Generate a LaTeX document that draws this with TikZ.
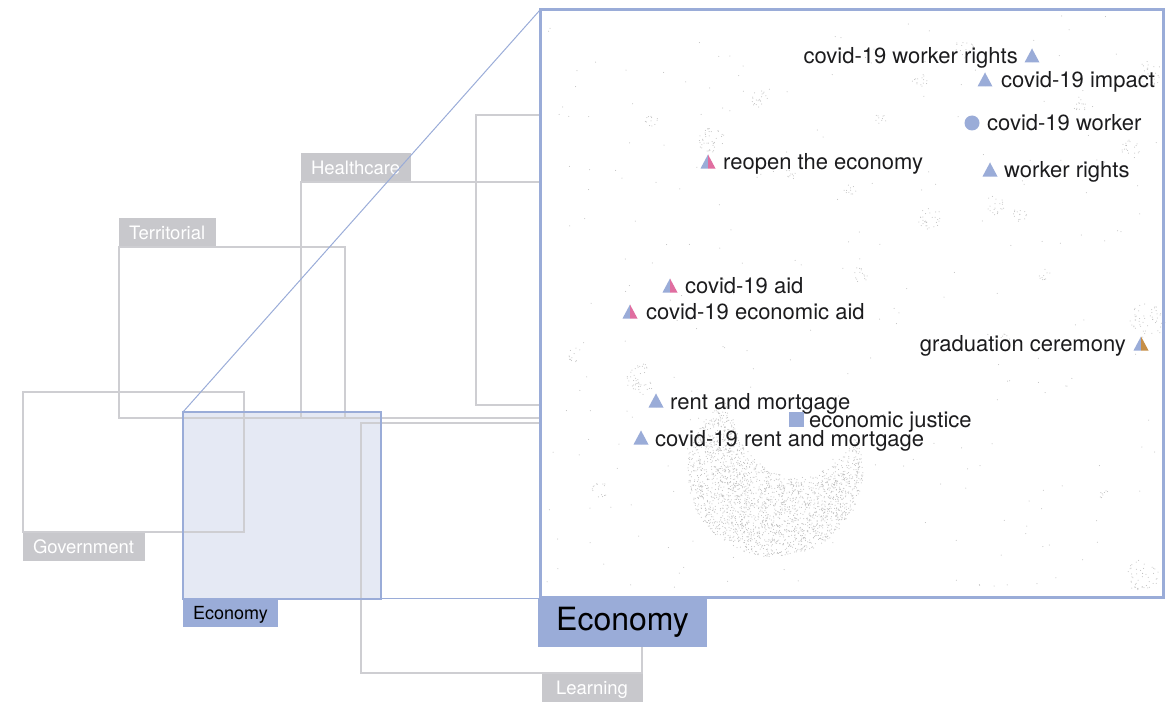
\documentclass[tikz,border=0pt]{standalone}
\usepackage{fontspec}
\setmainfont{TeX Gyre Heros}
\usetikzlibrary{calc}
\definecolor{blu}{RGB}{154,172,216}
\definecolor{blufill}{RGB}{229,233,244}
\definecolor{grayline}{RGB}{206,206,210}
\definecolor{graylab}{RGB}{200,200,204}
\definecolor{pinkc}{RGB}{224,110,160}
\definecolor{orangec}{RGB}{198,142,70}
\definecolor{dotc}{RGB}{188,188,188}
\definecolor{ink}{RGB}{28,28,30}
\newcommand\mtri[4]{%
  \fill[#3] ($(#1,#2)+(-7.5,6.5)$) -- ($(#1,#2)+(0,-7.5)$) -- ($(#1,#2)+(0,6.5)$) -- cycle;
  \fill[#4] ($(#1,#2)+(0,-7.5)$) -- ($(#1,#2)+(7.5,6.5)$) -- ($(#1,#2)+(0,6.5)$) -- cycle;}
\begin{document}
\begin{tikzpicture}[x=1pt,y=-1pt,
  graybox/.style={draw=grayline,line width=1.4pt},
  grouplab/.style={fill=graylab,text=white,font=\fontsize{18.5}{18.5}\selectfont,
    inner xsep=10.5pt,inner ysep=0pt,minimum height=28pt,text height=16.5pt,text depth=3pt},
  ptlab/.style={text=ink,font=\fontsize{22}{22}\selectfont,inner sep=0pt},
  zoomline/.style={draw=blu,line width=1pt}]
\useasboundingbox (0,0) rectangle (1170,706);

% economy small box fill
\fill[blufill] (183,412) rectangle (381,599);

% gray boxes
\draw[graybox] (23,392) rectangle (244,532);
\draw[graybox] (119,247) rectangle (345,418);
\draw[graybox] (301,182) rectangle (560,418);
\draw[graybox] (476,115) rectangle (560,405);
\draw[graybox] (361,423) rectangle (642,673);

\node[grouplab,anchor=north west] (govlab) at (22.3,532.5) {Government};
\node[grouplab,anchor=south west] (terlab) at (118.3,246.5) {Territorial};
\node[grouplab,anchor=south west] (heallab) at (300.3,181.5) {Healthcare};
\node[grouplab,anchor=north east,minimum width=101pt] (learnlab) at (642.7,673.5) {Learning};

% economy small box border
\draw[draw=blu,line width=1.2pt] (183,412) rectangle (381,599);
\coordinate (econNW) at (183,412);
\coordinate (econSE) at (381,598.5);
\node[fill=blu,text=black,font=\fontsize{18}{18}\selectfont,inner xsep=10pt,inner ysep=0pt,
  minimum height=28pt,text height=16pt,text depth=3pt,anchor=north west] (econlab) at (183,599) {Economy};

% zoom panel
\fill[white] (540,10) rectangle (1163,597);
\coordinate (panelNW) at (540,10);
\coordinate (panelSW) at (540,598.5);

% background dots: crescent
\pgfmathsetseed{11}
\foreach \i in {1,...,3600}{
  \pgfmathsetmacro\aa{rnd*360}
  \pgfmathsetmacro\rr{sqrt(rnd)}
  \pgfmathsetmacro\px{775+88*\rr*cos(\aa)}
  \pgfmathsetmacro\py{472+85*\rr*sin(\aa)}
  \pgfmathtruncatemacro\ins{((\px-797)/66)^2+((\py-400)/77)^2<1 ? 1 : 0}
  \ifnum\ins=0 \fill[dotc] (\px,\py) circle (0.5); \fi
}
\foreach \i in {1,...,260}{
  \pgfmathsetmacro\px{545+rnd*612}
  \pgfmathsetmacro\py{15+rnd*575}
  \fill[dotc] (\px,\py) circle (0.5);
}
\foreach \cx/\cy/\rad/\n in {712/140/14/40, 760/100/9/20, 652/120/7/12, 930/218/12/30, 1148/320/18/50,
   641/378/15/45, 575/355/7/12, 1143/575/16/45, 1105/495/5/8, 1150/75/14/35, 965/48/10/20,
   920/80/8/15, 860/275/8/15, 995/205/10/20, 1020/215/8/14, 1045/275/6/10, 600/490/8/14,
   1005/340/6/10, 1080/105/8/14, 850/190/6/10, 790/175/6/10, 1130/150/10/20, 880/120/6/10}{
  \foreach \j in {1,...,\n}{
    \pgfmathsetmacro\aa{rnd*360}
    \pgfmathsetmacro\rr{\rad*sqrt(rnd)}
    \pgfmathsetmacro\px{\cx+\rr*cos(\aa)}
    \pgfmathsetmacro\py{\cy+\rr*sin(\aa)}
    \fill[dotc] (\px,\py) circle (0.5);
  }
}

\draw[draw=blu,line width=3pt] (540,10) rectangle (1163,597);
\node[fill=blu,text=black,font=\fontsize{32}{32}\selectfont,inner xsep=18pt,inner ysep=0pt,
  minimum height=49pt,text height=23pt,text depth=6.5pt,anchor=north west] (biglab) at (538,598) {Economy};

% zoom connectors
\draw[zoomline] (econNW) -- (panelNW);
\draw[zoomline] (econSE) -- (panelSW);

% points
\mtri{1032}{56}{blu}{blu}
\node[ptlab,anchor=base east] (p1) at (1018,64) {covid-19 worker rights};
\mtri{985}{80}{blu}{blu}
\node[ptlab,anchor=base west] (p2) at (1001,88) {covid-19 impact};
\fill[blu] (972,123) circle (7.5);
\node[ptlab,anchor=base west] (p3) at (987,131) {covid-19 worker};
\mtri{708}{162}{blu}{pinkc}
\node[ptlab,anchor=base west] (p4) at (723,169) {reopen the economy};
\mtri{990}{170}{blu}{blu}
\node[ptlab,anchor=base west] (p5) at (1004,178) {worker rights};
\mtri{670}{286}{blu}{pinkc}
\node[ptlab,anchor=base west] (p6) at (685,293) {covid-19 aid};
\mtri{630}{312}{blu}{pinkc}
\node[ptlab,anchor=base west] (p7) at (646,319) {covid-19 economic aid};
\mtri{1141}{344}{blu}{orangec}
\node[ptlab,anchor=base east] (p8) at (1126,351) {graduation ceremony};
\mtri{656}{401}{blu}{blu}
\node[ptlab,anchor=base west] (p9) at (670,409) {rent and mortgage};
\fill[blu] (788.5,412) rectangle (803.5,427);
\node[ptlab,anchor=base west] (p10) at (809,427) {economic justice};
\mtri{641}{438}{blu}{blu}
\node[ptlab,anchor=base west] (p11) at (655,446) {covid-19 rent and mortgage};
\end{tikzpicture}
\end{document}
